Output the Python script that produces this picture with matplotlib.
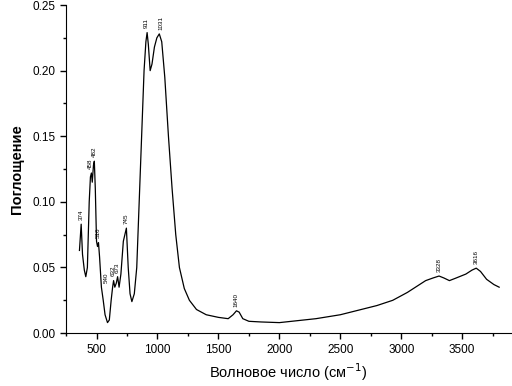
import matplotlib
matplotlib.use("Agg")
import matplotlib.pyplot as plt
from matplotlib.ticker import MultipleLocator

plt.rcParams['font.family'] = ['Liberation Sans', 'DejaVu Sans']

wavenumber = [360, 374, 385, 400, 412, 425, 440, 450, 458, 465, 475, 482, 490, 500, 508, 516,
              525, 540, 555, 570, 590, 605, 620, 632, 640, 650, 662, 673, 685, 700, 720, 745,
              760, 775, 790, 810, 830, 850, 870, 890, 905, 915, 925, 940, 955, 975, 995, 1015,
              1035, 1060, 1090, 1120, 1150, 1180, 1220, 1262, 1320, 1400, 1500, 1580, 1620,
              1648, 1670, 1700, 1750, 1850, 2000, 2150, 2300, 2500, 2650, 2800, 2930, 3050,
              3200, 3260, 3310, 3350, 3395, 3450, 3530, 3580, 3615, 3650, 3700, 3760, 3803]
absorbance = [0.063, 0.083, 0.060, 0.048, 0.043, 0.050, 0.100, 0.119, 0.122, 0.115, 0.128,
              0.131, 0.110, 0.070, 0.066, 0.069, 0.058, 0.035, 0.025, 0.014, 0.008, 0.010,
              0.025, 0.035, 0.040, 0.035, 0.038, 0.043, 0.035, 0.045, 0.070, 0.080, 0.050,
              0.030, 0.024, 0.030, 0.050, 0.100, 0.150, 0.200, 0.222, 0.229, 0.220, 0.200,
              0.205, 0.218, 0.225, 0.228, 0.222, 0.195, 0.150, 0.110, 0.075, 0.050, 0.034,
              0.025, 0.018, 0.014, 0.012, 0.011, 0.014, 0.017, 0.016, 0.011, 0.009, 0.0085,
              0.008, 0.0095, 0.011, 0.014, 0.0175, 0.021, 0.025, 0.031, 0.040, 0.042, 0.0435,
              0.042, 0.040, 0.042, 0.045, 0.048, 0.0495, 0.047, 0.041, 0.037, 0.035]

peak_labels = ["374", "458", "482", "516", "540", "632", "673", "745", "911", "1031",
               "1640", "3328", "3616"]
peak_x = [374, 450, 482, 516, 580, 640, 673, 745, 911, 1031, 1648, 3310, 3615]
peak_y = [0.083, 0.122, 0.131, 0.069, 0.035, 0.040, 0.043, 0.080, 0.229, 0.228, 0.017,
          0.0435, 0.0495]

fig = plt.figure(figsize=(5.12, 3.86), dpi=100)
ax = fig.add_axes([0.129, 0.137, 0.869, 0.850])
ax.plot(wavenumber, absorbance, color='black', lw=0.9)

for lab, px, py in zip(peak_labels, peak_x, peak_y):
    ax.annotate(lab, (px, py), xytext=(0, 3), textcoords='offset points',
                rotation=90, ha='center', va='bottom', fontsize=4.5)

ax.set_xlim(250, 3900)
ax.set_ylim(0, 0.25)
ax.xaxis.set_major_locator(MultipleLocator(500))
ax.xaxis.set_minor_locator(MultipleLocator(250))
ax.yaxis.set_major_locator(MultipleLocator(0.05))
ax.yaxis.set_minor_locator(MultipleLocator(0.025))
ax.yaxis.set_major_formatter(plt.FormatStrFormatter('%.2f'))
for s in ['top', 'right']:
    ax.spines[s].set_visible(False)
ax.tick_params(axis='both', which='major', direction='out', length=4, width=1, labelsize=8.5)
ax.tick_params(axis='both', which='minor', direction='out', length=2.5, width=1)
ax.set_xlabel("Волновое число (см$^{-1}$)", fontsize=10.5, labelpad=4)
ax.set_ylabel("Поглощение", fontsize=10.5, fontweight='bold', labelpad=6)

fig.savefig("out.png", dpi=100)
